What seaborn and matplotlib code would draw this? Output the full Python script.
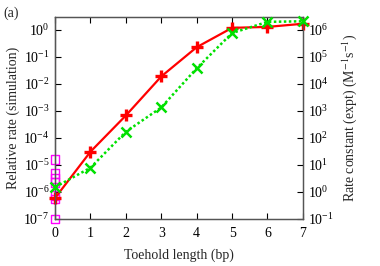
import numpy as np
import pandas as pd
import seaborn as sns
import matplotlib
matplotlib.use('Agg')
import matplotlib.pyplot as plt
from matplotlib.ticker import LogLocator, NullLocator

# toehold lengths
toehold = [0, 1, 2, 3, 4, 5, 6, 7]
# relative rate from simulation (left axis)
sim_rate = [6.0e-7, 3.1e-5, 6.8e-4, 1.9e-2, 0.23, 1.2, 1.3, 1.7]
# experimental rate constants, M^-1 s^-1 (right axis)
expt_rate = [1.5, 7.9, 170, 1350, 3.8e4, 7.7e5, 2.0e6, 2.1e6]
# extra zero-toehold simulation points
zero_x = [0, 0, 0, 0, 0, 0, 0]
zero_rate = [1.6e-5, 4.8e-6, 3.1e-6, 2.2e-6, 7.2e-7, 5.5e-7, 1.0e-7]

sns.set_style('ticks')
plt.rcParams['font.family'] = ['Liberation Serif', 'DejaVu Serif']
plt.rcParams['mathtext.fontset'] = 'stix'
plt.rcParams['font.size'] = 10

fig = plt.figure(figsize=(3.8, 2.66), dpi=100)
ax = fig.add_axes([0.145, 0.177, 0.652, 0.759])
ax2 = ax.twinx()

df_sim = pd.DataFrame({'x': toehold, 'y': sim_rate})
df_exp = pd.DataFrame({'x': toehold, 'y': expt_rate})
df_zero = pd.DataFrame({'x': zero_x, 'y': zero_rate})

sns.scatterplot(data=df_zero, x='x', y='y', ax=ax, marker='s', s=40,
                facecolor='none', edgecolor='#ff00ff', linewidth=1.0,
                clip_on=False, zorder=3)
sns.lineplot(data=df_sim, x='x', y='y', ax=ax, color='#ff0000', lw=1.6,
             marker='+', markersize=8, markeredgewidth=2.4,
             markeredgecolor='#ff0000', clip_on=False, zorder=4)
sns.lineplot(data=df_exp, x='x', y='y', ax=ax2, color='#00e000', lw=1.8,
             linestyle=(0, (1, 1)), marker='x', markersize=7,
             markeredgewidth=1.8, markeredgecolor='#00e000',
             clip_on=False, zorder=4)

ax.set_yscale('log')
ax2.set_yscale('log')
ax.set_ylim(1e-7, 10 ** 0.48)
ax2.set_ylim(1e-1, 10 ** 6.48)
ax.set_xlim(0, 7)
ax.set_xticks(toehold)

for a in (ax, ax2):
    a.yaxis.set_major_locator(LogLocator(base=10, numticks=20))
    a.yaxis.set_minor_locator(NullLocator())
    a.tick_params(axis='both', direction='in', length=4, width=0.8,
                  labelsize=10, colors='black')
ax.tick_params(axis='x', top=True, pad=6)
ax.tick_params(axis='y', pad=4)
ax2.tick_params(axis='y', pad=4)

for a in (ax, ax2):
    for s in a.spines.values():
        s.set_color('#555555')
        s.set_linewidth(0.9)
ax.spines['left'].set_color('black')

ax.set_xlabel('Toehold length (bp)', fontsize=10, labelpad=6)
ax.set_ylabel('Relative rate (simulation)', fontsize=10, labelpad=2)
ax2.set_ylabel('Rate constant (expt) (M$^{-1}$s$^{-1}$)', fontsize=10,
               labelpad=4)
fig.text(0.008, 0.975, '(a)', fontsize=10, va='top', ha='left')

fig.savefig('out.png', dpi=100)
